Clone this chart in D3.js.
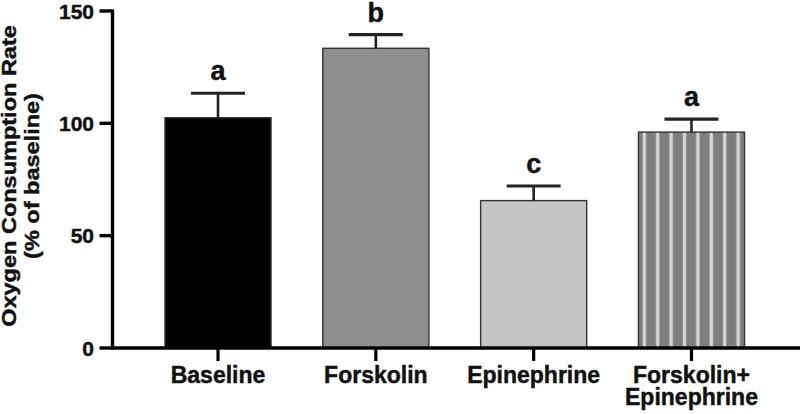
<!DOCTYPE html>
<html>
<head>
<meta charset="utf-8">
<script src="https://cdn.jsdelivr.net/npm/d3@7"></script>
<style>
  html, body { margin: 0; padding: 0; background: #fff; }
  svg { display: block; font-family: "Liberation Sans", Arial, sans-serif; font-weight: bold; }
  svg text { fill: #111; stroke: #111; stroke-width: 0.45px; }
</style>
</head>
<body>
<div id="chart"></div>
<script>
// oxygen consumption, % of baseline
const groups = ['Baseline', 'Forskolin', 'Epinephrine', 'Forskolin+\nEpinephrine'];
const means = [102.5, 133.4, 65.6, 96.1];
const sem = [10.9, 6.1, 6.5, 5.8];
const letters = ['a', 'b', 'c', 'a'];
const fills = ['#000000', '#8f8f8f', '#c4c4c4', 'url(#stripes)'];
const yTicks = [0, 50, 100, 150];

const W = 800, H = 414;

const svg = d3.select('#chart').append('svg').attr('width', W).attr('height', H);

// vertical stripe fill for the combined treatment
const pat = svg.append('defs').append('pattern')
  .attr('id', 'stripes').attr('patternUnits', 'userSpaceOnUse')
  .attr('width', 13.4).attr('height', 10).attr('x', 640);
pat.append('rect').attr('width', 13.4).attr('height', 10).attr('fill', '#7e7e7e');
pat.append('rect').attr('x', 2.6).attr('width', 3.4).attr('height', 10).attr('fill', '#d6d6d6');

const x = d3.scaleBand().domain(groups).range([139.1, 770.4]).paddingInner(0.328).paddingOuter(0.164);
const y = d3.scaleLinear().domain([0, 150]).range([348, 11]);
const x0 = 112.5;

// bars
svg.append('g').selectAll('rect').data(groups).join('rect')
  .attr('x', d => x(d)).attr('width', x.bandwidth())
  .attr('y', (d, i) => y(means[i])).attr('height', (d, i) => y(0) - y(means[i]))
  .attr('fill', (d, i) => fills[i])
  .attr('stroke', '#333').attr('stroke-width', 1.4);

// error bars (upper only) + significance letters
const eb = svg.append('g').attr('stroke', '#222');
groups.forEach((g, i) => {
  const cx = x(g) + x.bandwidth() / 2;
  const top = y(means[i] + sem[i]);
  eb.append('line').attr('x1', cx).attr('x2', cx)
    .attr('y1', y(means[i])).attr('y2', top).attr('stroke-width', 2.6);
  eb.append('line').attr('x1', cx - 27).attr('x2', cx + 27)
    .attr('y1', top).attr('y2', top).attr('stroke-width', 3.2);
  svg.append('text').attr('x', cx).attr('y', top - 13)
    .attr('text-anchor', 'middle').attr('font-size', 27)
    .text(letters[i]);
});

// y axis
const ya = svg.append('g');
ya.append('line').attr('x1', x0).attr('x2', x0).attr('y1', y(150) - 1.6).attr('y2', y(0) + 1.6)
  .attr('stroke', '#000').attr('stroke-width', 3.4);
yTicks.forEach(t => {
  ya.append('line').attr('x1', x0 - 13).attr('x2', x0).attr('y1', y(t)).attr('y2', y(t))
    .attr('stroke', '#000').attr('stroke-width', 3.4);
  ya.append('text').attr('x', 94).attr('y', y(t) + 7.5)
    .attr('text-anchor', 'end').attr('font-size', 21).text(t);
});

// x axis
const xa = svg.append('g');
xa.append('line').attr('x1', x0).attr('x2', 800).attr('y1', y(0)).attr('y2', y(0))
  .attr('stroke', '#000').attr('stroke-width', 3.4);
groups.forEach(g => {
  const cx = x(g) + x.bandwidth() / 2;
  xa.append('line').attr('x1', cx).attr('x2', cx).attr('y1', y(0)).attr('y2', y(0) + 13)
    .attr('stroke', '#000').attr('stroke-width', 3.2);
  g.split('\n').forEach((ln, k) => {
    xa.append('text').attr('x', cx).attr('y', 382.5 + k * 22)
      .attr('text-anchor', 'middle').attr('font-size', 23).text(ln);
  });
});

// y title (font runs a little wide along the line)
[['Oxygen Consumption Rate', 16], ['(% of baseline)', 39]].forEach(([t, px]) => {
  svg.append('text')
    .attr('transform', `translate(${px},176) rotate(-90) scale(1.12,1)`)
    .attr('text-anchor', 'middle').attr('font-size', 21)
    .text(t);
});
</script>
</body>
</html>
